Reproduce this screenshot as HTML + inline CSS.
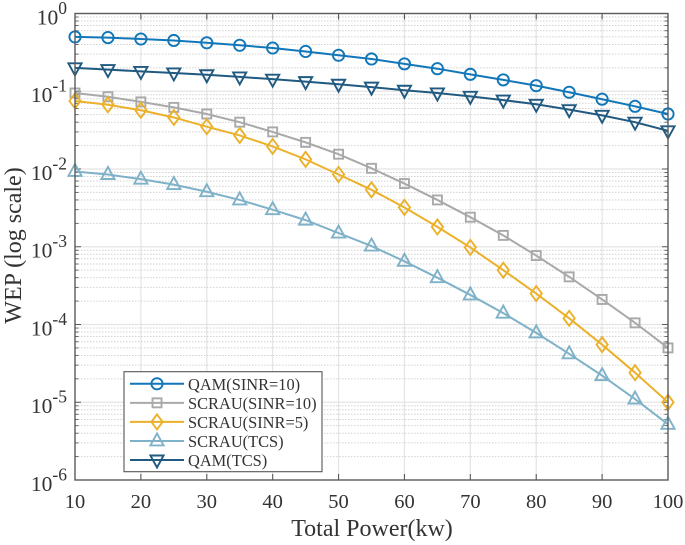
<!DOCTYPE html>
<html>
<head>
<meta charset="utf-8">
<style>
html,body{margin:0;padding:0;background:#fff;}
svg{display:block;font-family:"Liberation Serif",serif;}
</style>
</head>
<body>
<svg id="chart" xmlns="http://www.w3.org/2000/svg" width="685" height="545" viewBox="0 0 685 545">
<rect width="685" height="545" fill="#fff"/>
<g id="grid"></g>
<g id="ticks"></g>
<g id="series"></g>
<rect x="75" y="13.5" width="593" height="466.5" fill="none" stroke="#5a5a5a" stroke-width="1.4"/>
<g id="labels" fill="#333"></g>
<text x="372" y="536" text-anchor="middle" font-size="24" fill="#333">Total Power(kw)</text>
<text transform="translate(21,245.5) rotate(-90)" text-anchor="middle" font-size="24" fill="#333">WEP (log scale)</text>
<g id="legend"></g>
</svg>
<script>
const xValues = [10,15,20,25,30,35,40,45,50,55,60,65,70,75,80,85,90,95,100];
const xTickLabels = [10,20,30,40,50,60,70,80,90,100];
const yTickExponents = [0,-1,-2,-3,-4,-5,-6];
const qamSinr10 = [0.5,0.49,0.47,0.45,0.42,0.39,0.36,0.325,0.29,0.26,0.225,0.195,0.165,0.14,0.118,0.097,0.079,0.064,0.051];
const scrauSinr10 = [0.095,0.085,0.073,0.062,0.051,0.04,0.03,0.022,0.0155,0.0102,0.0065,0.004,0.0024,0.0014,0.00077,0.00041,0.00021,0.000105,0.00005];
const scrauSinr5 = [0.075,0.067,0.057,0.046,0.035,0.027,0.0195,0.0133,0.0085,0.0054,0.0032,0.0018,0.00098,0.0005,0.00025,0.00012,0.000055,0.000024,0.00001];
const scrauTcs = [0.0093,0.0085,0.0074,0.0063,0.0051,0.004,0.003,0.0022,0.0015,0.00102,0.00065,0.0004,0.00024,0.00014,0.000078,0.000042,0.000022,0.000011,0.0000052];
const qamTcs = [0.2,0.19,0.18,0.172,0.163,0.153,0.143,0.133,0.123,0.113,0.103,0.095,0.086,0.077,0.068,0.058,0.049,0.04,0.031];
const seriesNames = ["QAM(SINR=10)","SCRAU(SINR=10)","SCRAU(SINR=5)","SCRAU(TCS)","QAM(TCS)"];

const NS = "http://www.w3.org/2000/svg";
const L = 75, R = 668, T = 13.5, B = 480;
function xScale(v){ return L + (v - 10) / 90 * (R - L); }
function yScale(v){ return T + (0 - Math.log10(v)) / 6 * (B - T); }
function mk(tag, attrs, parent){
  const e = document.createElementNS(NS, tag);
  for (const k in attrs) e.setAttribute(k, attrs[k]);
  parent.appendChild(e);
  return e;
}
const gGrid = document.getElementById("grid");
const gTicks = document.getElementById("ticks");
const gSeries = document.getElementById("series");
const gLabels = document.getElementById("labels");
const gLegend = document.getElementById("legend");

/* vertical grid, x ticks and labels */
xTickLabels.forEach(function(v){
  const x = xScale(v);
  if (v !== 10 && v !== 100) {
    const g = mk("line", {x1:x, x2:x, y1:T, y2:B, stroke:"#e4e4e4", "stroke-width":1.2}, gGrid);
    
    
    const t1 = mk("line", {x1:x, x2:x, y1:B, y2:B-6, stroke:"#5a5a5a", "stroke-width":1.1}, gTicks);
    
    
    const t2 = mk("line", {x1:x, x2:x, y1:T, y2:T+6, stroke:"#5a5a5a", "stroke-width":1.1}, gTicks);
    
    
  }
  const lb = mk("text", {x:x, y:508, "text-anchor":"middle", "font-size":20.5}, gLabels);
  
  
  lb.textContent = v;
});

/* horizontal grid, y ticks and labels */
yTickExponents.forEach(function(exp){
  const base = Math.pow(10, exp);
  const y = yScale(base);
  if (exp !== 0 && exp !== -6) {
    const g = mk("line", {x1:L, x2:R, y1:y, y2:y, stroke:"#e4e4e4", "stroke-width":1.2}, gGrid);
    
    
  }
  [L, R].forEach(function(ex){
    const dir = ex === L ? 1 : -1;
    if (exp !== 0 && exp !== -6) {
      const t = mk("line", {x1:ex, x2:ex+dir*6, y1:y, y2:y, stroke:"#5a5a5a", "stroke-width":1}, gTicks);
      
      
    }
  });
  if (exp > -6) {
    for (let m = 2; m <= 9; m++) {
      const my = yScale(base / 10 * m);
      const mg = mk("line", {x1:L, x2:R, y1:my, y2:my, stroke:"#d2d2d2", "stroke-width":1, "stroke-dasharray":"1.5 1.5"}, gGrid);
      
      
      [L, R].forEach(function(ex){
        const dir = ex === L ? 1 : -1;
        const mt = mk("line", {x1:ex, x2:ex+dir*3.5, y1:my, y2:my, stroke:"#5a5a5a", "stroke-width":0.9}, gTicks);
        
        
      });
    }
  }
  const lb = mk("text", {x:67, y:y+10.8, "text-anchor":"end", "font-size":21.5}, gLabels);
  
  
  const s1 = mk("tspan", {}, lb);
  s1.textContent = "10";
  const s2 = mk("tspan", {dy:-10.5, "font-size":17.5}, lb);
  s2.textContent = String(exp);
});

/* markers */
function marker(kind, cx, cy, color, parent){
  const common = {fill:"none", stroke:color, "stroke-width":1.9};
  let e;
  if (kind === "circle") {
    e = mk("circle", Object.assign({cx:cx, cy:cy, r:5.6}, common), parent);
  } else if (kind === "square") {
    e = mk("rect", Object.assign({x:cx-4.5, y:cy-4.5, width:9, height:9}, common), parent);
  } else if (kind === "diamond") {
    e = mk("polygon", Object.assign({points:[cx,cy-7.5,cx+5.6,cy,cx,cy+7.5,cx-5.6,cy].join(",")}, common), parent);
  } else if (kind === "up") {
    e = mk("polygon", Object.assign({points:[cx,cy-7.5,cx+6.6,cy+4.5,cx-6.6,cy+4.5].join(",")}, common), parent);
  } else {
    e = mk("polygon", Object.assign({points:[cx,cy+7.5,cx+6.6,cy-4.5,cx-6.6,cy-4.5].join(",")}, common), parent);
  }
  
  
  return e;
}

const seriesStyles = [
  {values:qamSinr10, color:"#1177b9", kind:"circle"},
  {values:scrauSinr10, color:"#a9a9a9", kind:"square"},
  {values:scrauSinr5, color:"#ecb12a", kind:"diamond"},
  {values:scrauTcs, color:"#7fb2c8", kind:"up"},
  {values:qamTcs, color:"#215a80", kind:"down"}
];

seriesStyles.forEach(function(s, i){
  const g = mk("g", {}, gSeries);
  
  
  const pts = s.values.map(function(v, j){ return xScale(xValues[j]).toFixed(2) + "," + yScale(v).toFixed(2); }).join(" ");
  const pl = mk("polyline", {points:pts, fill:"none", stroke:s.color, "stroke-width":2}, g);
  
  
  s.values.forEach(function(v, j){
    marker(s.kind, xScale(xValues[j]), yScale(v), s.color, g);
  });
});

/* legend */
const box = mk("rect", {x:124, y:371.7, width:198, height:100, fill:"#fff", stroke:"#555", "stroke-width":1.1}, gLegend);


seriesStyles.forEach(function(s, i){
  const y = 383.8 + i * 19.05;
  const ln = mk("line", {x1:130, x2:184, y1:y, y2:y, stroke:s.color, "stroke-width":2}, gLegend);
  
  
  marker(s.kind, 157, y, s.color, gLegend);
  const t = mk("text", {x:188, y:y+6, "font-size":16.4, fill:"#333"}, gLegend);
  
  
  t.textContent = seriesNames[i];
});
</script>
</body>
</html>
